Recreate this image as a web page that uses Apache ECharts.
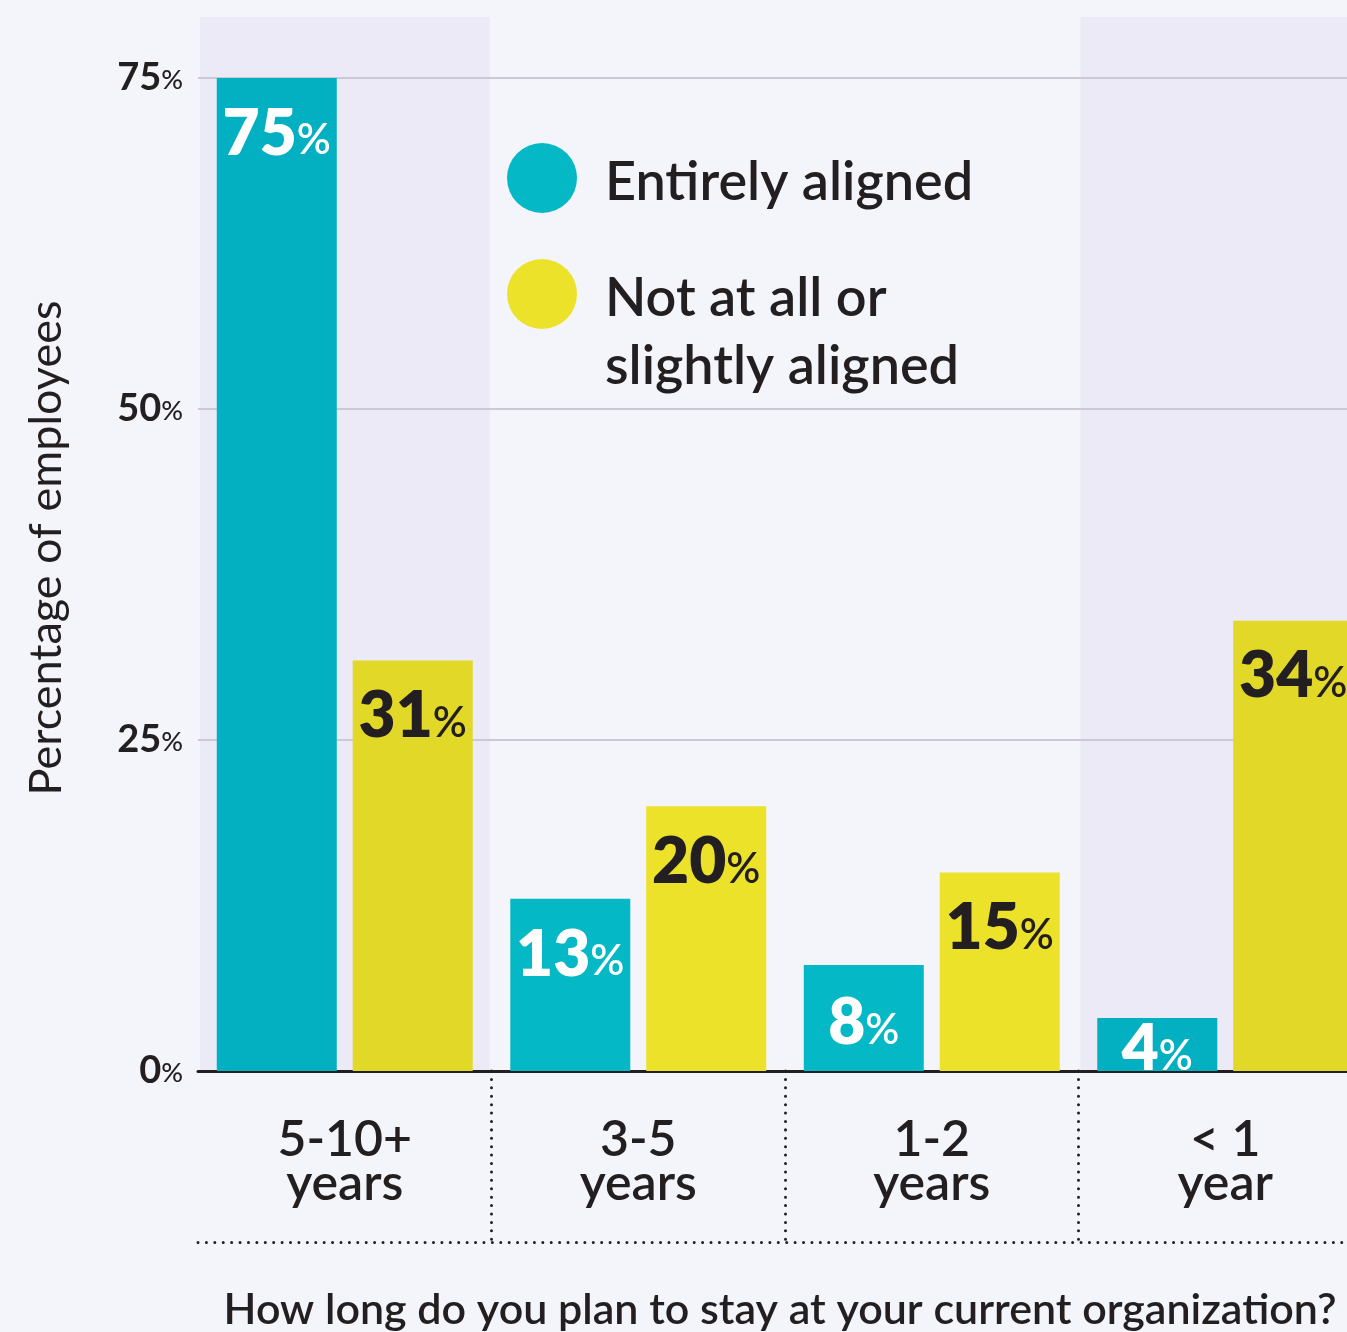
<!DOCTYPE html>
<html>
<head>
<meta charset="utf-8">
<script src="https://cdn.jsdelivr.net/npm/echarts@6/dist/echarts.min.js"></script>
<style>
  html, body { margin: 0; padding: 0; background: #f4f5fa; overflow: hidden; }
  #chart { width: 1347px; height: 1332px; }
</style>
</head>
<body>
<div id="chart"></div>
<script>
// Survey answers by planned tenure
const categories = ['5-10+\nyears', '3-5\nyears', '1-2\nyears', '< 1\nyear'];
const entirelyAligned = [75, 13, 8, 4];
const notAligned = [31, 20, 15, 34];
const yTicks = [0, 25, 50, 75];
const shadedCategories = ['5-10+\nyears', '< 1\nyear'];
const seriesNames = ['Entirely aligned', 'Not at all or\nslightly aligned'];

const INK = '#231f20';
const FONT = 'Lato';
const BAND = '#ebeaf6';
const TEAL = '#05b8c5';
const TEAL_BAND = '#03b0c1';
const YELLOW = '#ece22a';
const YELLOW_BAND = '#e2d827';

const isShaded = i => shadedCategories.includes(categories[i]);

// Bars inside a lavender band take a slightly deeper tone;
// short bars get their label centred instead of hanging from the top
function barData(values, color, bandColor) {
  return values.map((v, i) => {
    const item = { value: v, itemStyle: { color: isShaded(i) ? bandColor : color } };
    if (v < 10) item.label = { position: 'inside', offset: [0, 5] };
    return item;
  });
}

function barLabel(color) {
  return {
    show: true,
    position: 'insideTop',
    distance: 24,
    color: color,
    fontFamily: FONT,
    formatter: p => '{n|' + p.value + '}{p|%}',
    rich: {
      n: { fontSize: 64, fontWeight: 800, lineHeight: 64, verticalAlign: 'bottom', fontFamily: FONT },
      p: { fontSize: 42, fontWeight: 600, lineHeight: 42, verticalAlign: 'bottom', padding: [0, 0, 4, 0], fontFamily: FONT }
    }
  };
}

// Legend lines sit a touch below the dot centre
const legendText = {
  fontFamily: FONT, fontSize: 54, fontWeight: 600, color: INK, lineHeight: 68,
  padding: [0, 0, 0, 23],
  rich: {
    t: { fontFamily: FONT, fontSize: 54, fontWeight: 600, color: INK, lineHeight: 68, padding: [10, 0, 0, 0] }
  }
};
const legendLines = name => name.split('\n').map(s => '{t|' + s + '}').join('\n');

const chart = echarts.init(document.getElementById('chart'), null, { renderer: 'canvas' });

chart.setOption({
  backgroundColor: '#f4f5fa',
  animation: false,
  textStyle: { fontFamily: FONT, color: INK },
  grid: { left: 198, top: 17, width: 1174, bottom: 261, containLabel: false, outerBoundsMode: 'none' },
  legend: [
    {
      left: 507, top: 143, padding: 0,
      orient: 'vertical',
      icon: 'circle', itemWidth: 70, itemHeight: 70,
      data: [{ name: seriesNames[0] }],
      formatter: legendLines,
      textStyle: legendText
    },
    {
      // leading blank line puts the first text line level with the dot
      left: 507, top: 192, padding: 0,
      orient: 'vertical',
      icon: 'circle', itemWidth: 70, itemHeight: 70,
      data: [{ name: seriesNames[1] }],
      formatter: name => '\n' + legendLines(name),
      textStyle: legendText
    }
  ],
  xAxis: [
    {
      type: 'category',
      data: categories,
      name: 'How long do you plan to stay at your current organization?',
      nameLocation: 'middle',
      nameGap: 218,
      nameTextStyle: { fontFamily: FONT, fontSize: 43, fontWeight: 600, color: INK, lineHeight: 43, padding: [0, 10, 0, 0] },
      axisLine: { show: true, lineStyle: { color: INK, width: 3 } },
      axisTick: {
        show: true,
        length: 171,
        interval: (i) => i > 0,
        lineStyle: { color: INK, width: 3, type: [0.01, 8.4], cap: 'round' }
      },
      axisLabel: {
        interval: 0,
        margin: 47,
        fontFamily: FONT, fontSize: 50, fontWeight: 600, lineHeight: 44, color: INK
      },
      splitLine: { show: false }
    },
    {
      // dotted rule under the category labels
      type: 'category',
      data: categories,
      position: 'bottom',
      offset: 171,
      axisLine: { show: true, lineStyle: { color: INK, width: 3, type: [0.01, 8.4], cap: 'round' } },
      axisTick: { show: false },
      axisLabel: { show: false },
      splitLine: { show: false }
    }
  ],
  yAxis: {
    type: 'value',
    min: 0,
    max: 79.6,
    interval: 25,
    name: 'Percentage of employees',
    nameLocation: 'middle',
    nameGap: 129,
    nameTextStyle: { fontFamily: FONT, fontSize: 45, fontWeight: 400, color: INK, lineHeight: 45, padding: [0, 8, 0, 0] },
    axisLine: { show: false },
    axisTick: { show: false },
    splitLine: {
      show: true,
      showMinLine: false,
      showMaxLine: false,
      lineStyle: { color: '#cac9d5', width: 2 }
    },
    axisLabel: {
      margin: 15,
      color: INK,
      fontFamily: FONT,
      formatter: v => yTicks.includes(v) ? '{n|' + v + '}{p|%}' : '',
      rich: {
        n: { fontSize: 38, fontWeight: 700, lineHeight: 38, verticalAlign: 'bottom', fontFamily: FONT, color: INK },
        p: { fontSize: 27, fontWeight: 500, lineHeight: 27, verticalAlign: 'bottom', padding: [0, 0, 3, 0], fontFamily: FONT, color: INK }
      }
    }
  },
  series: [
    {
      name: seriesNames[0],
      type: 'bar',
      barWidth: 120,
      barGap: '13.3%',
      itemStyle: { color: TEAL },
      label: barLabel('#ffffff'),
      data: barData(entirelyAligned, TEAL, TEAL_BAND)
    },
    {
      name: seriesNames[1],
      type: 'bar',
      barWidth: 120,
      barGap: '13.3%',
      itemStyle: { color: YELLOW },
      label: barLabel(INK),
      data: barData(notAligned, YELLOW, YELLOW_BAND)
    },
    {
      // lavender bands behind the outer categories
      type: 'custom',
      z: -1,
      silent: true,
      encode: { x: 0, y: 1 },
      data: shadedCategories.map(c => [categories.indexOf(c), 0]),
      renderItem: (params, api) => {
        const cx = api.coord([api.value(0), 0])[0];
        const bw = api.size([1, 0])[0];
        const cs = params.coordSys;
        return {
          type: 'rect',
          shape: { x: cx - bw / 2 + 2, y: cs.y, width: bw - 4, height: cs.height },
          style: { fill: BAND }
        };
      }
    }
  ]
});
</script>
</body>
</html>
